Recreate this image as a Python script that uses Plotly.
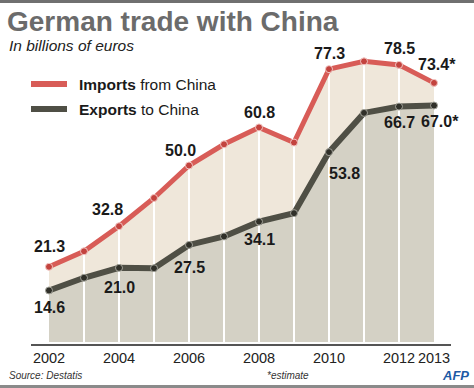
import plotly.graph_objects as go

# ---------------- data ----------------
years = [2002, 2003, 2004, 2005, 2006, 2007, 2008, 2009, 2010, 2011, 2012, 2013]
imports_from_china = [21.3, 25.7, 32.8, 40.8, 50.0, 56.0, 60.8, 56.5, 77.3, 79.5, 78.5, 73.4]
exports_to_china = [14.6, 18.2, 21.0, 20.9, 27.5, 29.9, 34.1, 36.5, 53.8, 64.9, 66.7, 67.0]
labeled_years = [2002, 2004, 2006, 2008, 2010, 2012, 2013]
tick_years = [2002, 2004, 2006, 2008, 2010, 2012, 2013]
tick_labels = ["2002", "2004", "2006", "2008", "2010", "2012", "2013"]
estimate_year = 2013

# ---------------- style ----------------
FONT = "Liberation Sans, Arial, sans-serif"
RED = "#d85c57"
RED_MK = "#c3433e"
DARK = "#4f4f45"
DARK_MK = "#303029"
BEIGE = "#efe7da"
GREY = "#d4d1c5"
TXT = "#1a1a1a"

W, H = 474, 388
ML, MR, MT, MB = 31, 23, 50, 44
PW, PH = W - ML - MR, H - MT - MB


def px_x(px):
    return (px - ML) / PW


def px_y(py):
    return (H - MB - py) / PH


# label offsets (pixels) per labeled year
imp_off = {2002: (0, 20), 2004: (-12, 17), 2006: (-9, 15), 2008: (0, 15),
           2010: (0, 16), 2012: (0, 16), 2013: (3, 18)}
exp_off = {2002: (0, -17), 2004: (0, -20), 2006: (0, -23), 2008: (0, -18),
           2010: (15, -21), 2012: (0, -16), 2013: (6, -16)}

fig = go.Figure()

# fills
fig.add_trace(go.Scatter(x=years, y=imports_from_china, mode="lines", fill="tozeroy",
                         fillcolor=BEIGE, line=dict(width=0, color=BEIGE),
                         hoverinfo="skip", showlegend=False))
fig.add_trace(go.Scatter(x=years, y=exports_to_china, mode="lines", fill="tozeroy",
                         fillcolor=GREY, line=dict(width=0, color=GREY),
                         hoverinfo="skip", showlegend=False))

# white vertical separators
vx, vy = [], []
for yr, v in zip(years[1:-1], imports_from_china[1:-1]):
    vx += [yr, yr, None]
    vy += [0, v, None]
fig.add_trace(go.Scatter(x=vx, y=vy, mode="lines", line=dict(color="white", width=2),
                         hoverinfo="skip", showlegend=False))

# lines
fig.add_trace(go.Scatter(x=years, y=imports_from_china, mode="lines+markers",
                         line=dict(color=RED, width=5),
                         marker=dict(size=7, color=RED_MK, line=dict(color="#f2c6c3", width=1)),
                         name="Imports from China", showlegend=False))
fig.add_trace(go.Scatter(x=years, y=exports_to_china, mode="lines+markers",
                         line=dict(color=DARK, width=6),
                         marker=dict(size=7, color=DARK_MK, line=dict(color="#a3a39a", width=1)),
                         name="Exports to China", showlegend=False))

annotations = []


def fmt(yr, v):
    return f"{v:.1f}" + ("*" if yr == estimate_year else "")


for yr, v in zip(years, imports_from_china):
    if yr in labeled_years:
        dx, dy = imp_off[yr]
        annotations.append(dict(x=yr, y=v, xref="x", yref="y", text=f"<b>{fmt(yr, v)}</b>",
                                showarrow=False, xshift=dx, yshift=dy,
                                font=dict(family=FONT, size=16, color=TXT)))
for yr, v in zip(years, exports_to_china):
    if yr in labeled_years:
        dx, dy = exp_off[yr]
        annotations.append(dict(x=yr, y=v, xref="x", yref="y", text=f"<b>{fmt(yr, v)}</b>",
                                showarrow=False, xshift=dx, yshift=dy,
                                font=dict(family=FONT, size=16, color=TXT)))

# subtitle
annotations.append(dict(x=px_x(7), y=px_y(46), xref="paper", yref="paper",
                        xanchor="left", yanchor="middle", showarrow=False,
                        text="<i>In billions of euros</i>",
                        font=dict(family=FONT, size=15.5, color="#222")))
# legend texts
annotations.append(dict(x=px_x(77), y=px_y(84), xref="paper", yref="paper",
                        xanchor="left", yanchor="middle", showarrow=False,
                        text="<b>Imports</b> from China",
                        font=dict(family=FONT, size=15.5, color=TXT)))
annotations.append(dict(x=px_x(77), y=px_y(109), xref="paper", yref="paper",
                        xanchor="left", yanchor="middle", showarrow=False,
                        text="<b>Exports</b> to China",
                        font=dict(family=FONT, size=15.5, color=TXT)))
# footer
annotations.append(dict(x=px_x(7), y=px_y(375), xref="paper", yref="paper",
                        xanchor="left", yanchor="middle", showarrow=False,
                        text="<i>Source: Destatis</i>",
                        font=dict(family=FONT, size=10, color="#333")))
annotations.append(dict(x=px_x(288), y=px_y(375), xref="paper", yref="paper",
                        xanchor="center", yanchor="middle", showarrow=False,
                        text="<i>*estimate</i>",
                        font=dict(family=FONT, size=10, color="#333")))
annotations.append(dict(x=px_x(455), y=px_y(375), xref="paper", yref="paper",
                        xanchor="center", yanchor="middle", showarrow=False,
                        text="<b><i>AFP</i></b>",
                        font=dict(family=FONT, size=13, color="#1d5aa5")))

shapes = [
    dict(type="rect", xref="paper", yref="paper", x0=px_x(0), x1=px_x(W),
         y0=px_y(0), y1=px_y(3), fillcolor="#707070", line=dict(width=0), layer="above"),
    dict(type="rect", xref="paper", yref="paper", x0=px_x(0), x1=px_x(W),
         y0=px_y(385), y1=px_y(H), fillcolor="#8a8a8a", line=dict(width=0), layer="above"),
    dict(type="line", xref="paper", yref="paper", x0=px_x(31), x1=px_x(67),
         y0=px_y(84), y1=px_y(84), line=dict(color=RED, width=6)),
    dict(type="line", xref="paper", yref="paper", x0=px_x(31), x1=px_x(67),
         y0=px_y(109), y1=px_y(109), line=dict(color=DARK, width=6)),
]

x0 = years[0] - 18 / 35
x1 = x0 + PW / 35
ppu = 3.53
y0 = -2 / ppu
y1 = y0 + PH / ppu

fig.update_layout(
    width=W, height=H,
    margin=dict(l=ML, r=MR, t=MT, b=MB),
    paper_bgcolor="white", plot_bgcolor="white",
    title=dict(text="<b>German trade with China</b>", x=7 / W, xanchor="left",
               xref="container",
               y=1 - 21 / H, yanchor="middle", yref="container",
               font=dict(family=FONT, size=28, color="#6b6b6b")),
    xaxis=dict(range=[x0, x1], showgrid=False, zeroline=False, showline=True,
               linecolor="#555", linewidth=1.5, tickvals=tick_years, ticktext=tick_labels,
               ticks="", tickfont=dict(family=FONT, size=14.5, color="#222"), fixedrange=True),
    yaxis=dict(range=[y0, y1], visible=False, showgrid=False, zeroline=False, fixedrange=True),
    annotations=annotations,
    shapes=shapes,
    showlegend=False,
)

fig.write_html("out.html", config={"displayModeBar": False},
               post_script="document.body.style.margin='0';document.body.style.overflow='hidden';")
